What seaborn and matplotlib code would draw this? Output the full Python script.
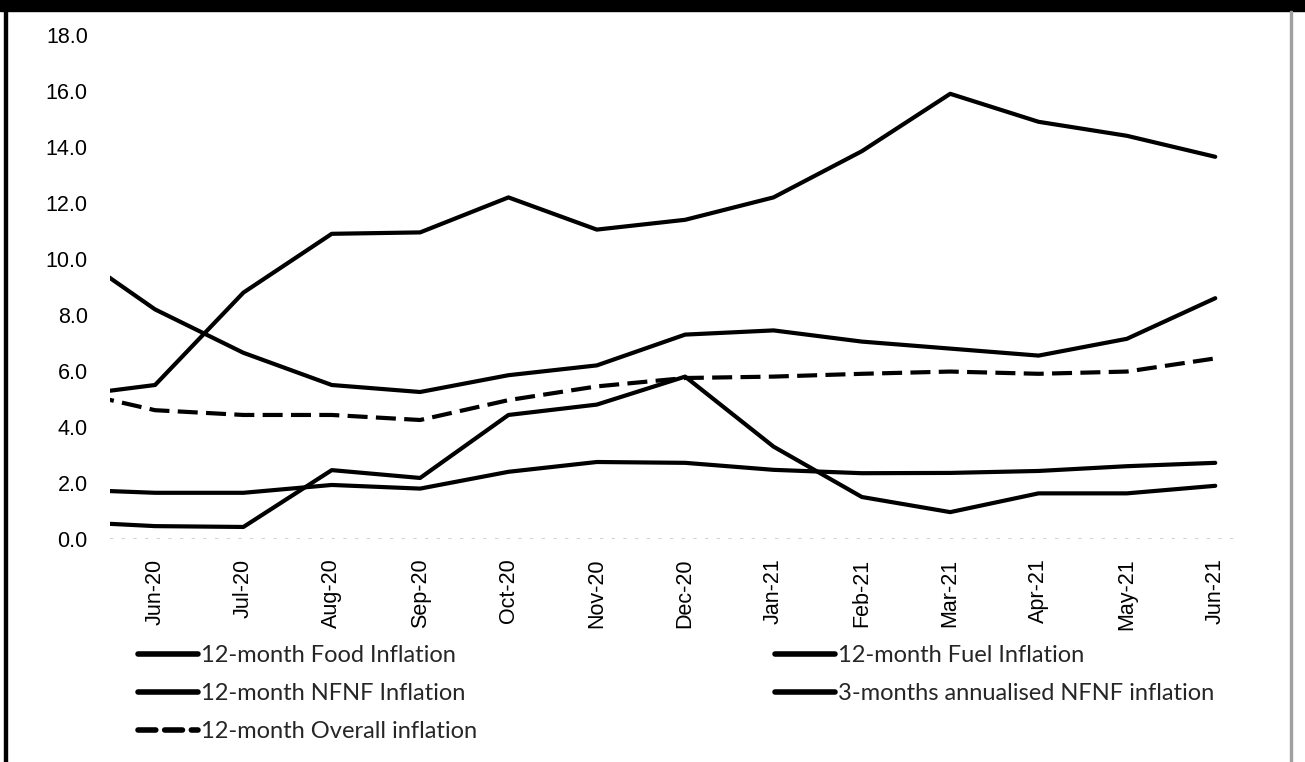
import matplotlib
matplotlib.use("Agg")
import matplotlib.pyplot as plt
from matplotlib.patches import Rectangle
import seaborn as sns

# months (May-20 sits just outside the left edge of the plot)
months = ['May-20', 'Jun-20', 'Jul-20', 'Aug-20', 'Sep-20', 'Oct-20', 'Nov-20',
          'Dec-20', 'Jan-21', 'Feb-21', 'Mar-21', 'Apr-21', 'May-21', 'Jun-21']

food = [5.1, 5.5, 8.8, 10.9, 10.95, 12.2, 11.05, 11.4, 12.2, 13.85, 15.9, 14.9, 14.4, 13.65]
fuel = [10.4, 8.2, 6.65, 5.5, 5.25, 5.85, 6.2, 7.3, 7.45, 7.05, 6.8, 6.55, 7.15, 8.6]
nfnf_12m = [1.77, 1.65, 1.65, 1.93, 1.8, 2.4, 2.75, 2.72, 2.47, 2.35, 2.36, 2.43, 2.6, 2.72]
nfnf_3m = [0.62, 0.46, 0.43, 2.46, 2.18, 4.43, 4.8, 5.8, 3.3, 1.5, 0.96, 1.63, 1.63, 1.9]
overall = [5.32, 4.6, 4.43, 4.43, 4.25, 4.96, 5.45, 5.75, 5.8, 5.9, 5.98, 5.9, 5.98, 6.45]

labels = ['12-month Food Inflation', '12-month NFNF Inflation', '12-month Overall inflation',
          '12-month Fuel Inflation', '3-months annualised NFNF inflation']

sns.set_style('white')
plt.rcParams['font.family'] = ['Liberation Sans', 'DejaVu Sans']

fig = plt.figure(figsize=(13.05, 7.62), dpi=100)
ax = fig.add_axes([110 / 1305, 1 - 539 / 762, 1130 / 1305, 504 / 762])

series = [food, nfnf_12m, overall, fuel, nfnf_3m]
for vals, lab in zip(series, labels):
    if 'Overall' in lab:
        sns.lineplot(x=months, y=vals, color='black', lw=3, ls=(0, (4.8, 2)),
                     label=lab, ax=ax)
    else:
        sns.lineplot(x=months, y=vals, color='black', lw=3, label=lab, ax=ax,
                     solid_capstyle='round')

ax.axhline(0, color='#c8c8c8', lw=1.2, ls=(0, (2, 5)))

ax.set_xlim(0.49, 13.28)
ax.set_ylim(0, 18)
ax.set_yticks(range(0, 19, 2))
ax.set_yticklabels([f'{v:.1f}' for v in range(0, 19, 2)])
ax.set_xticks(range(1, len(months)))
ax.set_xticklabels(months[1:], rotation=90)
ax.tick_params(axis='both', length=0, labelsize=15.5, colors='black')
ax.tick_params(axis='y', pad=16)
ax.tick_params(axis='x', pad=14)
ax.set_xlabel('')
ax.set_ylabel('')
sns.despine(ax=ax, left=True, bottom=True)

handles, labs = ax.get_legend_handles_labels()
leg = ax.legend(handles, labs, ncol=2, frameon=False, loc='upper left',
                bbox_to_anchor=(138 / 1305, 1 - 645 / 762), bbox_transform=fig.transFigure,
                prop={'family': 'Lato', 'size': 17}, handlelength=2.55, handletextpad=0.12,
                columnspacing=12.6, labelspacing=0.72, borderpad=0, borderaxespad=0)
for h in leg.get_lines():
    h.set_linewidth(4)
    if h.get_linestyle() != '-':
        h.set_dashes((3.2, 1.6))
        h.set_dash_capstyle('round')

# page frame from the scan
fig.patches.append(Rectangle((0, 1 - 11 / 762), 1, 11 / 762, transform=fig.transFigure,
                             color='black', zorder=5))
fig.patches.append(Rectangle((4 / 1305, 0), 2.5 / 1305, 1, transform=fig.transFigure,
                             color='black', zorder=5))
fig.patches.append(Rectangle((1290 / 1305, 0), 2 / 1305, 1 - 11 / 762, transform=fig.transFigure,
                             color='#a0a0a0', zorder=5))

fig.savefig('out.png', dpi=100)
